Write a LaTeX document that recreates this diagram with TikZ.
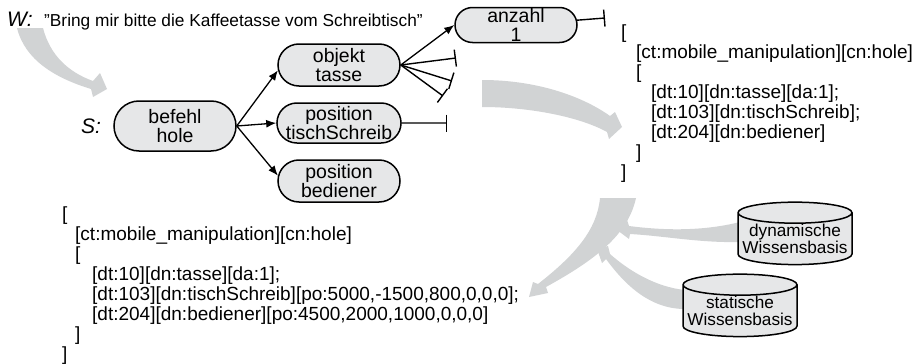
\documentclass[tikz,border=0pt]{standalone}
\usepackage{fontspec}
\setmainfont{Liberation Sans}
\usetikzlibrary{arrows.meta}
\usetikzlibrary{positioning}
\usetikzlibrary{shapes.misc}
\usetikzlibrary{shapes.geometric}
\definecolor{lgray}{RGB}{230, 231, 232}
\definecolor{agray}{RGB}{209, 211, 212}
\tikzset{pill/.style = {draw, line width = 1.5, fill = lgray, rounded rectangle, minimum width = 122, minimum height = 42, inner sep = 0, align = center, font = \fontsize{19.5}{19}\selectfont}}
\tikzset{db/.style = {draw, line width = 1.5, fill = lgray, cylinder, shape border rotate = 90, aspect = 0.2, minimum width = 114, minimum height = 58, inner sep = 0, align = center, font = \fontsize{17.2}{17.5}\selectfont}}
\tikzset{code/.style = {anchor = north west, inner sep = 0, align = left, font = \fontsize{19}{20}\selectfont}}
\tikzset{link/.style = {line width = 1.3, -{Latex[length = 10pt, width = 8pt]}}}
\tikzset{inhibit/.style = {line width = 1.4, -{Bar[width = 17pt]}}}
\tikzset{flow/.style = {fill = agray}}

\begin{document}
\begin{tikzpicture}[x = 1pt, y = -1pt]
      \useasboundingbox (0, 0) rectangle (919, 364);

      \fill [flow] (17, 28) -- (43, 28) .. controls (50, 55) and (68, 72) .. (93, 81) -- (100, 73) -- (107, 89) -- (93, 97) -- (91, 89) .. controls (55, 78) and (25, 60) .. (17, 28) -- cycle;
      \fill [flow] (482, 80) .. controls (540, 80) and (585, 98) .. (610, 116) -- (615, 112) -- (622, 127) -- (609, 139) -- (607, 132) .. controls (580, 117) and (530, 107) .. (482, 107) -- cycle;
      \fill [flow] (600, 198) -- (636, 198) .. controls (628, 235) and (595, 260) .. (546, 287) -- (548, 293) -- (529, 297) -- (533, 282) -- (538, 284) .. controls (575, 255) and (597, 230) .. (600, 198) -- cycle;
      \fill [flow] (740, 222) .. controls (700, 232) and (660, 230) .. (629, 226) -- (627, 220) -- (617, 230) -- (629, 239) -- (630, 234) .. controls (665, 236) and (700, 243) .. (740, 242) -- cycle;
      \fill [flow] (685, 290) .. controls (655, 287) and (628, 270) .. (610, 254) -- (608, 246) -- (597, 249) -- (602, 263) -- (606, 259) .. controls (625, 285) and (650, 309) .. (685, 309) -- cycle;

      \node [anchor = base west, inner sep = 0, font = \fontsize{17.3}{17.3}\selectfont] (satz) at (44, 27) {"Bring mir bitte die Kaffeetasse vom Schreibtisch"};
      \node [base left = 11pt of satz, inner sep = 0, font = \fontsize{21}{21}\selectfont\itshape] (w) {W:};

      \node [pill, minimum height = 50] (befehl) at (175, 126) {befehl\\hole};
      \node [left = 12pt of befehl, inner sep = 0, font = \fontsize{21}{21}\selectfont\itshape] (s) {S:};

      \node [pill] (objekt) at (339, 65) {objekt\\tasse};
      \node [pill, minimum height = 40] (tisch) at (339, 123) {position\\tischSchreib};
      \node [pill] (bediener) at (339, 181) {position\\bediener};
      \node [pill, minimum height = 35] (anzahl) at (516, 25) {anzahl\\1};

      \draw [link] (befehl.east) -- (objekt.185);
      \draw [link] (befehl.east) -- (tisch.west);
      \draw [link] (befehl.east) -- (bediener.175);
      \draw [link] (objekt.east) -- (anzahl.west);

      \coordinate (t0) at (605, 18);
      \coordinate (t1) at (456, 58);
      \coordinate (t2) at (452, 81);
      \coordinate (t3) at (443, 96);
      \coordinate (t4) at (447, 123);
      \draw [inhibit] (anzahl) -- (t0);
      \draw [inhibit] (objekt.east) -- (t1);
      \draw [inhibit] (objekt.east) -- (t2);
      \draw [inhibit] (objekt.east) -- (t3);
      \draw [inhibit] (tisch) -- (t4);

      \node [code] (plan) at (621, 25) {[\\\hspace*{15pt}[ct:mobile\_manipulation][cn:hole]\\\hspace*{15pt}[\\\hspace*{30pt}[dt:10][dn:tasse][da:1];\\\hspace*{30pt}[dt:103][dn:tischSchreib];\\\hspace*{30pt}[dt:204][dn:bediener]\\\hspace*{15pt}]\\]};

      \node [code] (ergebnis) at (62, 207) {[\\\hspace*{13pt}[ct:mobile\_manipulation][cn:hole]\\\hspace*{13pt}[\\\hspace*{30pt}[dt:10][dn:tasse][da:1];\\\hspace*{30pt}[dt:103][dn:tischSchreib][po:5000,-1500,800,0,0,0];\\\hspace*{30pt}[dt:204][dn:bediener][po:4500,2000,1000,0,0,0]\\\hspace*{13pt}]\\]};

      \node [db] (dyn) at (795, 239) {dynamische\\Wissensbasis};
      \node [db] (stat) at (740, 311) {statische\\Wissensbasis};
    \end{tikzpicture}
\end{document}
